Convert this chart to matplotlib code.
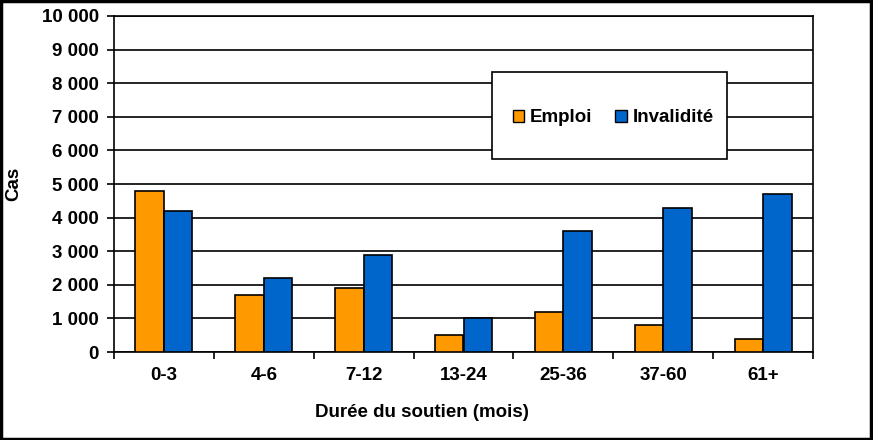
import matplotlib
matplotlib.use("Agg")
import matplotlib.pyplot as plt
import numpy as np
from matplotlib.ticker import FuncFormatter, FixedLocator
from matplotlib.patches import Rectangle

categories = ["0-3", "4-6", "7-12", "13-24", "25-36", "37-60", "61+"]
emploi = [4800, 1700, 1900, 500, 1200, 800, 400]
invalidite = [4200, 2200, 2900, 1000, 3600, 4300, 4700]
series_names = ["Emploi", "Invalidité"]
y_ticks = list(range(0, 10001, 1000))

plt.rcParams['font.family'] = ['Liberation Sans', 'DejaVu Sans']
plt.rcParams['font.weight'] = 'bold'
FS = 13.5

fig = plt.figure(figsize=(8.73, 4.40), dpi=100)
ax = fig.add_axes([114/873, 1-352/440, (813-114)/873, (352-16)/440])

x = np.arange(len(categories))
w = 0.285
ax.bar(x - w/2, emploi, w, color="#FF9900", edgecolor="black", linewidth=1.2, label=series_names[0], zorder=3)
ax.bar(x + w/2, invalidite, w, color="#0066CC", edgecolor="black", linewidth=1.2, label=series_names[1], zorder=3)

ax.set_xlim(-0.5, len(categories) - 0.5)
ax.set_ylim(0, 10000)
ax.yaxis.set_major_locator(FixedLocator(y_ticks))
ax.yaxis.set_major_formatter(FuncFormatter(lambda v, p: f"{int(v):,}".replace(",", " ")))
ax.grid(axis="y", color="black", linewidth=1.2, zorder=0)

ax.set_xticks(x)
ax.set_xticklabels(categories, fontsize=FS, fontweight="bold")
ax.set_xticks(np.arange(-0.5, len(categories)), minor=True)
ax.tick_params(axis="x", which="major", length=0, pad=11)
ax.tick_params(axis="x", which="minor", length=5, width=1.2, direction="out")
ax.tick_params(axis="y", length=5, width=1.2, direction="out", labelsize=FS, pad=6)
for lab in ax.get_yticklabels():
    lab.set_fontweight("bold")

for s in ax.spines.values():
    s.set_linewidth(1.2)
    s.set_color("black")

ax.set_xlabel("Durée du soutien (mois)", fontsize=FS, fontweight="bold")
ax.xaxis.set_label_coords(0.44, -0.155)
ax.set_ylabel("Cas", fontsize=FS, fontweight="bold")
ax.yaxis.set_label_coords(-0.131, 0.5)

# legend box
ax.add_patch(Rectangle((0.541, 0.574), 0.336, 0.259, transform=ax.transAxes,
                       facecolor="white", edgecolor="black", linewidth=1.2, zorder=5, clip_on=False))
leg = ax.legend(loc="center", bbox_to_anchor=(0.714, 0.697), ncol=2,
                frameon=False, prop={"size": FS, "weight": "bold"},
                handlelength=0.6, handleheight=0.6, handletextpad=0.3,
                columnspacing=1.25, borderpad=0)
leg.set_zorder(6)
for h in leg.legend_handles:
    h.set_edgecolor("black")
    h.set_linewidth(1.0)

fig.patches.append(Rectangle((0.0015, 0.002), 0.996, 0.995, transform=fig.transFigure,
                             fill=False, edgecolor="black", linewidth=2.5, zorder=10))

fig.savefig("out.png", dpi=100)
